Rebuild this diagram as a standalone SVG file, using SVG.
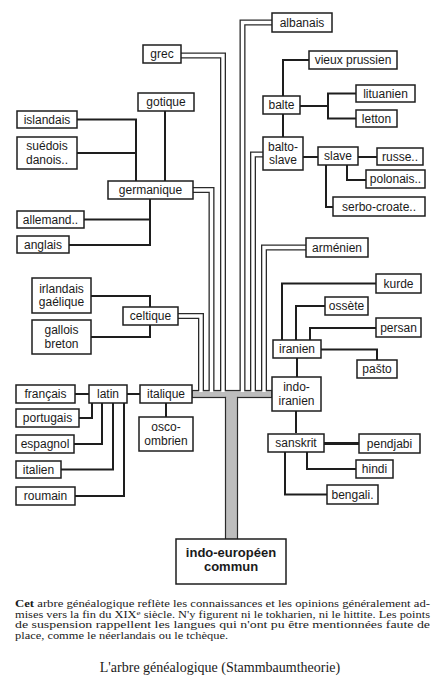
<svg xmlns="http://www.w3.org/2000/svg" width="443" height="696" viewBox="0 0 443 696">
<style>
.box{fill:#fff;stroke:#1e1e1e;stroke-width:1.5}
.t{font-family:"Liberation Sans",Arial,sans-serif;font-size:12px;fill:#1a1a1a;text-anchor:middle}
.b{font-family:"Liberation Sans",Arial,sans-serif;font-size:13px;font-weight:bold;fill:#1a1a1a;text-anchor:middle}
.ln{fill:none;stroke:#1e1e1e;stroke-width:2}
.ch-o{fill:none;stroke:#2a2a2a;stroke-width:6;stroke-linejoin:miter}
.ch-i{fill:none;stroke:#fff;stroke-width:3.4;stroke-linejoin:miter}
.cap{font-family:"Liberation Serif","Times New Roman",serif;font-size:9.5px;fill:#1a1a1a}
</style>
<rect width="443" height="696" fill="#fff"/>
<g id="trunk">
<rect x="192" y="390.5" width="80" height="7" fill="#bdbdbd" stroke="#2a2a2a" stroke-width="1.2"/>
<rect x="225.5" y="397.5" width="12" height="142" fill="#bdbdbd" stroke="#2a2a2a" stroke-width="1.2"/>
<rect x="226.1" y="396" width="10.8" height="3" fill="#bdbdbd"/>
</g>
<g id="connectors">
<g id="channels">
<path class="ch-o" d="M178,316 H201 V391"/>
<path class="ch-o" d="M193,190 H211.5 V391"/>
<path class="ch-o" d="M181,55.5 H223 V391"/>
<path class="ch-o" d="M272,22.5 H242.5 V391"/>
<path class="ch-o" d="M263,154.5 H253 V391"/>
<path class="ch-o" d="M306,247.5 H264 V391"/>
<path class="ch-i" d="M178,316 H201 V392"/>
<path class="ch-i" d="M193,190 H211.5 V392"/>
<path class="ch-i" d="M181,55.5 H223 V392"/>
<path class="ch-i" d="M272,22.5 H242.5 V392"/>
<path class="ch-i" d="M263,154.5 H253 V392"/>
<path class="ch-i" d="M306,247.5 H264 V392"/>
</g>
<path class="ln" d="M77,119.5 H136 V181"/>
<path class="ln" d="M77,153 H136"/>
<path class="ln" d="M165,111 V181"/>
<path class="ln" d="M150,199 V245 H69"/>
<path class="ln" d="M84,219.5 H150"/>
<path class="ln" d="M91,296 H150 V307"/>
<path class="ln" d="M91,337 H150 V325"/>
<path class="ln" d="M75,394 H89"/>
<path class="ln" d="M127,394 H140"/>
<path class="ln" d="M166,403 V417"/>
<path class="ln" d="M79,418 H92 V403"/>
<path class="ln" d="M74,444 H102 V403"/>
<path class="ln" d="M61,469.5 H113 V403"/>
<path class="ln" d="M75,496 H124 V403"/>
<path class="ln" d="M283,96 V60 H309"/>
<path class="ln" d="M283,114 V137"/>
<path class="ln" d="M300,106 H328"/>
<path class="ln" d="M356,93.5 H328 V118.5 H356"/>
<path class="ln" d="M303,157 H318"/>
<path class="ln" d="M358,157 H377"/>
<path class="ln" d="M347,165 V180 H366"/>
<path class="ln" d="M326,165 V207 H333"/>
<path class="ln" d="M282,340 V283.5 H376"/>
<path class="ln" d="M296,340 V306 H325"/>
<path class="ln" d="M310,340 V328 H376"/>
<path class="ln" d="M321,349.5 H377 V360"/>
<path class="ln" d="M297,358 V377"/>
<path class="ln" d="M296,411 V433"/>
<path class="ln" d="M324,443.5 H359" style="stroke-width:2.8"/>
<path class="ln" d="M307,452 V469 H356"/>
<path class="ln" d="M285,452 V494.5 H327"/>
</g>
<g id="albanais"><rect class="box" x="272" y="13" width="60" height="19"/><text class="t" x="302" y="27">albanais</text></g>
<g id="grec"><rect class="box" x="143" y="45" width="38" height="18"/><text class="t" x="162" y="58">grec</text></g>
<g id="gotique"><rect class="box" x="138" y="93" width="56" height="18"/><text class="t" x="166" y="106">gotique</text></g>
<g id="islandais"><rect class="box" x="17" y="111" width="60" height="17"/><text class="t" x="47" y="124">islandais</text></g>
<g id="suedois"><rect class="box" x="17" y="137" width="60" height="32"/><text class="t" x="47" y="150">suédois</text><text class="t" x="47" y="164">danois..</text></g>
<g id="germanique"><rect class="box" x="108" y="181" width="85" height="18"/><text class="t" x="150.5" y="194">germanique</text></g>
<g id="allemand"><rect class="box" x="17" y="211" width="67" height="17"/><text class="t" x="50.5" y="224">allemand..</text></g>
<g id="anglais"><rect class="box" x="17" y="236" width="52" height="17"/><text class="t" x="43" y="249">anglais</text></g>
<g id="vieux-prussien"><rect class="box" x="309" y="51" width="88" height="18"/><text class="t" x="353" y="64">vieux prussien</text></g>
<g id="balte"><rect class="box" x="263" y="96" width="37" height="18"/><text class="t" x="281.5" y="109">balte</text></g>
<g id="lituanien"><rect class="box" x="356" y="85" width="59" height="17"/><text class="t" x="385.5" y="98">lituanien</text></g>
<g id="letton"><rect class="box" x="356" y="110" width="41" height="17"/><text class="t" x="376.5" y="123">letton</text></g>
<g id="balto-slave"><rect class="box" x="263" y="137" width="40" height="33"/><text class="t" x="283" y="151">balto-</text><text class="t" x="283" y="164">slave</text></g>
<g id="slave"><rect class="box" x="318" y="147" width="40" height="18"/><text class="t" x="338" y="160">slave</text></g>
<g id="russe"><rect class="box" x="377" y="148" width="46" height="17"/><text class="t" x="400" y="161">russe..</text></g>
<g id="polonais"><rect class="box" x="366" y="170" width="59" height="18"/><text class="t" x="395.5" y="183">polonais..</text></g>
<g id="serbo-croate"><rect class="box" x="333" y="197" width="92" height="19"/><text class="t" x="379" y="211">serbo-croate..</text></g>
<g id="armenien"><rect class="box" x="306" y="238" width="62" height="19"/><text class="t" x="337" y="252">arménien</text></g>
<g id="kurde"><rect class="box" x="376" y="274" width="45" height="19"/><text class="t" x="398.5" y="288">kurde</text></g>
<g id="ossete"><rect class="box" x="325" y="297" width="43" height="18"/><text class="t" x="346.5" y="310">ossète</text></g>
<g id="persan"><rect class="box" x="376" y="318" width="45" height="19"/><text class="t" x="398.5" y="332">persan</text></g>
<g id="iranien"><rect class="box" x="273" y="340" width="48" height="18"/><text class="t" x="297" y="353">iranien</text></g>
<g id="pasto"><rect class="box" x="357" y="360" width="40" height="18"/><text class="t" x="377" y="373">pašto</text></g>
<g id="indo-iranien"><rect class="box" x="272" y="377" width="49" height="34"/><text class="t" x="296.5" y="391">indo-</text><text class="t" x="296.5" y="405">iranien</text></g>
<g id="sanskrit"><rect class="box" x="268" y="434" width="56" height="18"/><text class="t" x="296" y="447">sanskrit</text></g>
<g id="pendjabi"><rect class="box" x="359" y="434" width="61" height="19"/><text class="t" x="389.5" y="448">pendjabi</text></g>
<g id="hindi"><rect class="box" x="356" y="460" width="37" height="18"/><text class="t" x="374.5" y="473">hindi</text></g>
<g id="bengali"><rect class="box" x="327" y="485" width="51" height="19"/><text class="t" x="352.5" y="499">bengali.</text></g>
<g id="irlandais"><rect class="box" x="32" y="278" width="59" height="35"/><text class="t" x="61.5" y="293">irlandais</text><text class="t" x="61.5" y="306">gaélique</text></g>
<g id="gallois"><rect class="box" x="32" y="320" width="59" height="34"/><text class="t" x="61.5" y="334">gallois</text><text class="t" x="61.5" y="348">breton</text></g>
<g id="celtique"><rect class="box" x="123" y="307" width="55" height="18"/><text class="t" x="150.5" y="320">celtique</text></g>
<g id="francais"><rect class="box" x="16" y="385" width="59" height="18"/><text class="t" x="45.5" y="398">français</text></g>
<g id="latin"><rect class="box" x="89" y="385" width="38" height="18"/><text class="t" x="108" y="398">latin</text></g>
<g id="italique"><rect class="box" x="140" y="385" width="52" height="18"/><text class="t" x="166" y="398">italique</text></g>
<g id="portugais"><rect class="box" x="16" y="409" width="63" height="18"/><text class="t" x="47.5" y="422">portugais</text></g>
<g id="espagnol"><rect class="box" x="16" y="435" width="58" height="18"/><text class="t" x="45" y="448">espagnol</text></g>
<g id="italien"><rect class="box" x="16" y="461" width="45" height="17"/><text class="t" x="38.5" y="474">italien</text></g>
<g id="roumain"><rect class="box" x="16" y="487" width="59" height="18"/><text class="t" x="45.5" y="500">roumain</text></g>
<g id="osco-ombrien"><rect class="box" x="139" y="417" width="54" height="34"/><text class="t" x="166" y="431">osco-</text><text class="t" x="166" y="445">ombrien</text></g>
<g id="indo-europeen"><rect class="box" x="176" y="539" width="110" height="45"/><text class="b" x="231" y="557">indo-européen</text><text class="b" x="231" y="571">commun</text></g>
<g id="caption">
<text class="cap" x="15" y="607" textLength="415" lengthAdjust="spacingAndGlyphs"><tspan font-weight="bold">Cet</tspan> arbre généalogique reflète les connaissances et les opinions généralement ad-</text>
<text class="cap" x="15" y="617.5" textLength="415" lengthAdjust="spacingAndGlyphs">mises vers la fin du XIX<tspan font-size="7" dy="-3">e</tspan><tspan dy="3"> siècle. N'y figurent ni le tokharien, ni le hittite. Les points</tspan></text>
<text class="cap" x="15" y="628" textLength="415" lengthAdjust="spacingAndGlyphs">de suspension rappellent les langues qui n'ont pu être mentionnées faute de</text>
<text class="cap" x="15" y="638.5" textLength="213" lengthAdjust="spacingAndGlyphs">place, comme le néerlandais ou le tchèque.</text>
<text class="cap" x="220" y="672" style="font-size:14px;text-anchor:middle">L'arbre généalogique  (Stammbaumtheorie)</text>
</g>
</svg>
